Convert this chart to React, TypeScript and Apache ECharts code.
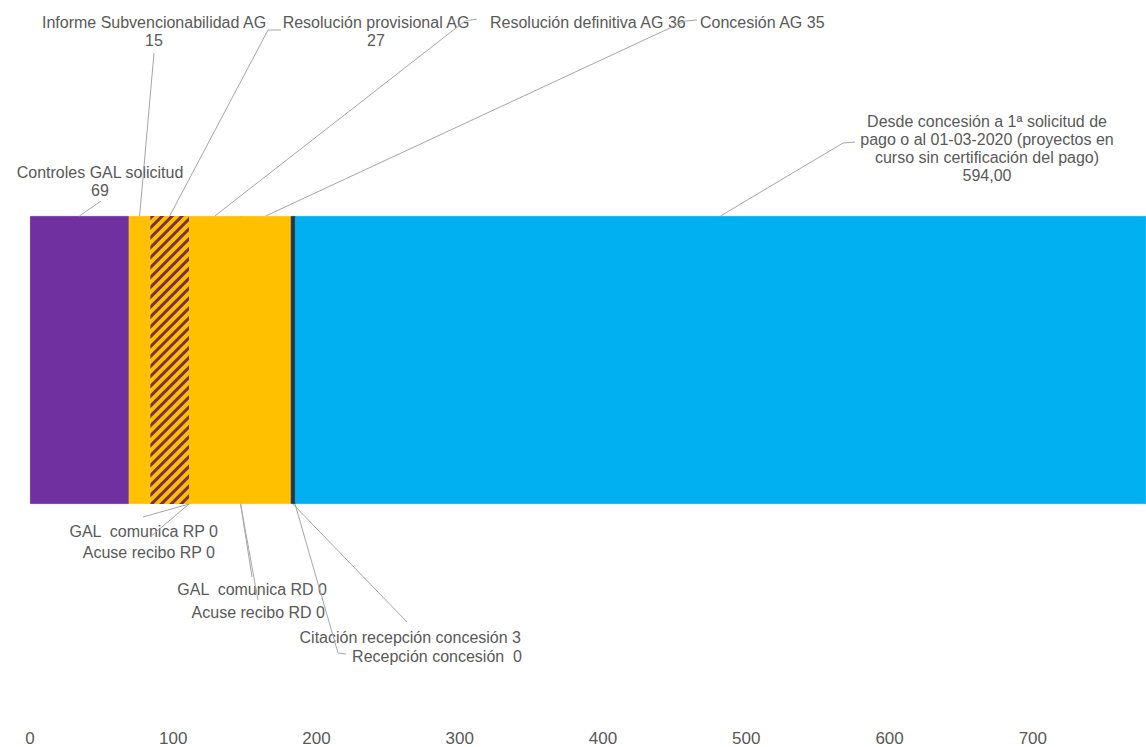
import React, { useEffect, useRef } from "react";
import * as echarts from "echarts";

// ---- data ----
const categories = ["Proyectos"];
const stageNames = [
  "Controles GAL solicitud",
  "Informe Subvencionabilidad AG",
  "Resolución provisional AG",
  "GAL  comunica RP",
  "Acuse recibo RP",
  "Resolución definitiva AG",
  "GAL  comunica RD",
  "Acuse recibo RD",
  "Concesión AG",
  "Citación recepción concesión",
  "Recepción concesión ",
  "Desde concesión a 1ª solicitud de\npago o al 01-03-2020 (proyectos en\ncurso sin certificación del pago)",
];
const stageValues = [69, 15, 27, 0, 0, 36, 0, 0, 35, 3, 0, 594];
const valueDecimals = [0, 0, 0, 0, 0, 0, 0, 0, 0, 0, 0, 2];
const tickStep = 100;

// ---- styles / layout ----
const stageColors = [
  "#7030A0", "#FFC000", "#FFC000", "#FFC000", "#FFC000", "#FFC000",
  "#FFC000", "#FFC000", "#FFC000", "#263446", "#263446", "#00B0F0",
];
const hatched = [false, false, true, false, false, false, false, false, false, false, false, false];
const BAR_W = 288;
const TEXT_COLOR = "#595959";
const LINE_COLOR = "#a6a6a6";
const FONT = '16px "Liberation Sans", Arial, sans-serif';

type LabelLayout = { side: "top" | "bottom"; sep: string; x: number; y: number; align: "left" | "center" | "right"; path: number[][] };
const labelLayout: LabelLayout[] = [
  { side: "top", sep: "\n", x: 100, y: 181, align: "center", path: [[101, 201]] },
  { side: "top", sep: "\n", x: 154, y: 31, align: "center", path: [[154, 53]] },
  { side: "top", sep: "\n", x: 376, y: 31, align: "center", path: [[268, 30], [281, 30]] },
  { side: "bottom", sep: " ", x: 218, y: 531, align: "right", path: [[143, 517]] },
  { side: "bottom", sep: " ", x: 215, y: 552, align: "right", path: [[150, 537]] },
  { side: "top", sep: " ", x: 490, y: 22, align: "left", path: [[465, 21], [477, 19]] },
  { side: "bottom", sep: " ", x: 327, y: 589, align: "right", path: [[252, 577]] },
  { side: "bottom", sep: " ", x: 325, y: 612, align: "right", path: [[258, 600]] },
  { side: "top", sep: " ", x: 700, y: 22, align: "left", path: [[685, 21], [697, 20]] },
  { side: "bottom", sep: " ", x: 521, y: 637, align: "right", path: [[407, 622]] },
  { side: "bottom", sep: " ", x: 522, y: 656, align: "right", path: [[338, 653], [346, 654]] },
  { side: "top", sep: "\n", x: 987, y: 148, align: "center", path: [[843, 143], [855, 142]] },
];

function fmt(v: number, d: number) {
  return d > 0 ? v.toFixed(d).replace(".", ",") : String(v);
}

export default function App() {
  const ref = useRef<HTMLDivElement>(null);
  useEffect(() => {
    if (!ref.current) return;
    const chart = echarts.init(ref.current, undefined, { renderer: "svg" });
    const total = stageValues.reduce((a, b) => a + b, 0);
    const starts: number[] = [];
    let acc = 0;
    stageValues.forEach((v) => {
      starts.push(acc);
      acc += v;
    });

    const barSeries = stageValues.map((v, i) => ({
      type: "bar",
      name: stageNames[i],
      stack: "total",
      barWidth: BAR_W,
      data: [v],
      itemStyle: {
        color: stageColors[i],
        borderColor: hatched[i] ? undefined : stageColors[i],
        borderWidth: hatched[i] ? 0 : 0.8,
        decal: hatched[i]
          ? {
              symbol: "rect",
              symbolSize: 1,
              dashArrayX: [1, 0],
              dashArrayY: [3, 4],
              rotation: -Math.PI / 4,
              color: "#7b3046",
            }
          : undefined,
      },
      z: hatched[i] ? 3 : 2,
      silent: true,
    }));

    const annotData = stageValues.map((v, i) => [starts[i], starts[i] + v, i, 0]);

    const annotSeries = {
      type: "custom",
      coordinateSystem: "cartesian2d",
      encode: { x: [0, 1], y: 3 },
      data: annotData,
      clip: false,
      silent: true,
      z: 10,
      renderItem: (params: any, api: any) => {
        const s = api.value(0);
        const e = api.value(1);
        const idx = api.value(2);
        const pt = api.coord([(s + e) / 2, 0]);
        const L = labelLayout[idx];
        const ay = L.side === "top" ? pt[1] - BAR_W / 2 : pt[1] + BAR_W / 2;
        const text = stageNames[idx] + L.sep + fmt(stageValues[idx], valueDecimals[idx]);
        return {
          type: "group",
          children: [
            {
              type: "polyline",
              shape: { points: [[pt[0], ay], ...L.path] },
              style: { stroke: LINE_COLOR, lineWidth: 1, fill: null },
            },
            {
              type: "text",
              x: L.x,
              y: L.y,
              style: {
                text,
                fill: TEXT_COLOR,
                font: FONT,
                align: L.align,
                verticalAlign: "middle",
                lineHeight: 18,
              },
            },
          ],
        };
      },
    };

    chart.setOption({
      animation: false,
      backgroundColor: "#ffffff",
      grid: { left: 30, right: 0, top: 0, height: 723, containLabel: false },
      xAxis: {
        type: "value",
        min: 0,
        max: total,
        interval: tickStep,
        axisLine: { show: false },
        axisTick: { show: false },
        splitLine: { show: false },
        axisLabel: {
          showMaxLabel: false,
          color: TEXT_COLOR,
          fontSize: 17,
          fontFamily: '"Liberation Sans", Arial, sans-serif',
          margin: 10,
        },
      },
      yAxis: {
        type: "category",
        data: categories,
        show: false,
      },
      series: [...barSeries, annotSeries],
    });
    return () => chart.dispose();
  }, []);
  return (
    <div
      ref={ref}
      style={{ position: "fixed", left: 0, top: 0, width: 1146, height: 747, background: "#fff" }}
    />
  );
}
